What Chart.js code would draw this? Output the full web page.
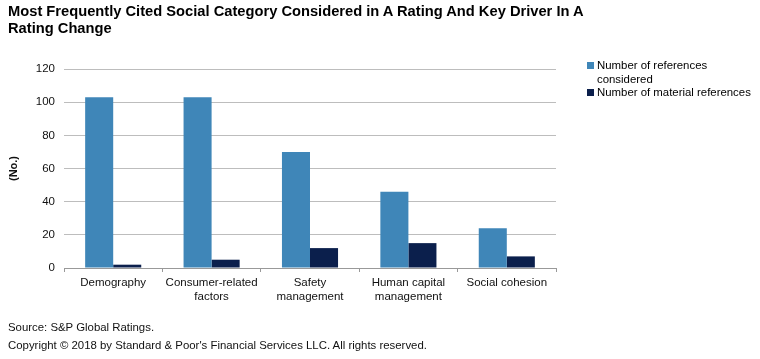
<!DOCTYPE html>
<html>
<head>
<meta charset="utf-8">
<script src="https://cdn.jsdelivr.net/npm/chart.js@4"></script>
<style>
  html, body { margin: 0; padding: 0; background: #fff; }
  body { width: 760px; height: 359px; position: relative; overflow: hidden; font-family: "Liberation Sans", Arial, sans-serif; color: #000; }
  #title { position: absolute; left: 8px; top: 3px; font-weight: bold; font-size: 14.7px; line-height: 17px; width: 590px; }
  #wrap { position: absolute; left: 0; top: 0; width: 760px; height: 359px; }
  #legend { position: absolute; left: 587px; top: 59px; font-size: 11.4px; line-height: 13.5px; }
  .li { position: relative; padding-left: 10px; width: 158px; }
  .sw { position: absolute; left: 0; top: 3px; width: 7px; height: 7px; }
  #foot { position: absolute; left: 8px; top: 318px; font-size: 11.4px; line-height: 18px; color: #111; }
</style>
</head>
<body>
<div id="wrap"><canvas id="c" width="760" height="359"></canvas></div>
<div id="title">Most Frequently Cited Social Category Considered in A Rating And Key Driver In A Rating Change</div>
<div id="legend"></div>
<div id="foot">Source: S&amp;P Global Ratings.<br>Copyright © 2018 by Standard &amp; Poor's Financial Services LLC. All rights reserved.</div>
<script>
const categories = [["Demography"], ["Consumer-related", "factors"], ["Safety", "management"], ["Human capital", "management"], ["Social cohesion"]];
const seriesNames = ["Number of references considered", "Number of material references"];
const referencesConsidered = [103, 103, 70, 46, 24];
const materialReferences = [2, 5, 12, 15, 7];
const yTicks = [0, 20, 40, 60, 80, 100, 120];
const colors = ["#3F86B8", "#0B1F4C"];

const legendEl = document.getElementById('legend');
seriesNames.forEach((n, i) => {
  const d = document.createElement('div');
  d.className = 'li';
  d.innerHTML = '<span class="sw" style="background:' + colors[i] + '"></span>' + n;
  legendEl.appendChild(d);
});

new Chart(document.getElementById('c'), {
  type: 'bar',
  data: {
    labels: categories,
    datasets: [
      { label: seriesNames[0], data: referencesConsidered, backgroundColor: colors[0], categoryPercentage: 0.57, barPercentage: 1.0 },
      { label: seriesNames[1], data: materialReferences, backgroundColor: colors[1], categoryPercentage: 0.57, barPercentage: 1.0 }
    ]
  },
  options: {
    responsive: false,
    animation: false,
    devicePixelRatio: 1,
    layout: { padding: { left: 0, top: 69, right: 204, bottom: 0 } },
    plugins: { legend: { display: false }, title: { display: false }, tooltip: { enabled: false } },
    scales: {
      x: {
        grid: { drawOnChartArea: false, drawTicks: true, tickLength: 4, color: '#999', offset: true },
        border: { display: true, color: '#999' },
        ticks: { color: '#111', font: { family: 'Liberation Sans', size: 11.5 }, padding: 4, maxRotation: 0, autoSkip: false },
        afterFit: s => { s.height = 91; }
      },
      y: {
        min: 0, max: 120,
        afterBuildTicks: s => { s.ticks = yTicks.map(v => ({ value: v })); },
        grid: { color: '#bdbdbd', drawTicks: false, lineWidth: 1 },
        border: { display: false },
        ticks: { color: '#111', font: { family: 'Liberation Sans', size: 11.5 }, padding: 9 },
        title: { display: true, text: '(No.)', color: '#111', font: { family: 'Liberation Sans', size: 11, weight: 'bold' }, padding: { top: 7, bottom: 0 } },
        afterFit: s => { s.width = 64; }
      }
    }
  }
});
</script>
</body>
</html>
